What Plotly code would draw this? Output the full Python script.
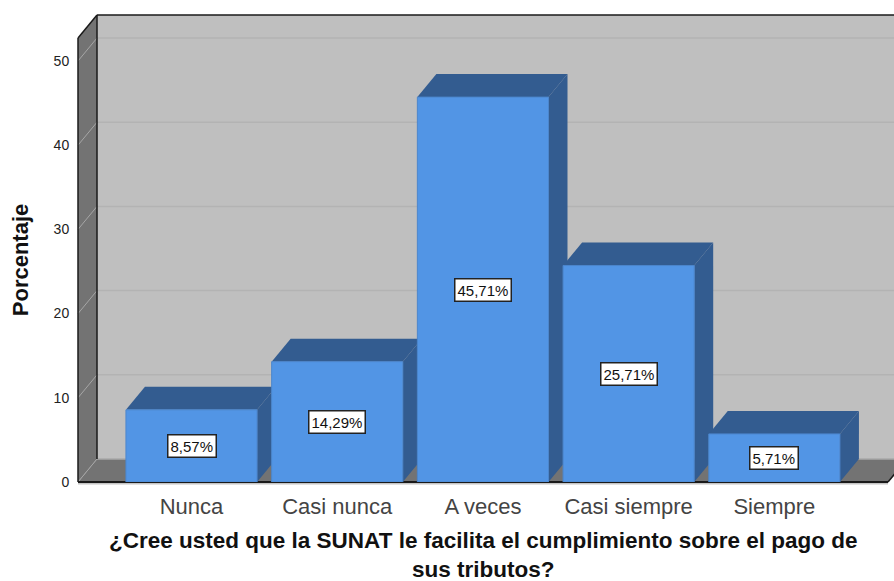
import plotly.graph_objects as go

categories = ["Nunca", "Casi nunca", "A veces", "Casi siempre", "Siempre"]
values = [8.57, 14.29, 45.71, 25.71, 5.71]
value_labels = ["8,57%", "14,29%", "45,71%", "25,71%", "5,71%"]
y_ticks = [0, 10, 20, 30, 40, 50]
x_title = "¿Cree usted que la SUNAT le facilita el cumplimiento sobre el pago de<br>sus tributos?"
y_title = "Porcentaje"

BAR_W = 0.9
XMIN, XMAX = -0.779, 4.78
YMAX = 52.73
DX, DY = 0.1304, 2.73   # depth of the pseudo-3D box, in axis units

FONT = "Liberation Sans, Arial, sans-serif"
WALL_BACK = "#BFBFBF"
WALL_SIDE = "#737373"
GRID_BACK = "#B3B3B3"
GRID_SIDE = "#A6A6A6"
BAR_FRONT = "#5295E5"
BAR_DARK = "#335C90"


def px(x):
    return (x - XMIN) / (XMAX - XMIN)


def py(y):
    return y / YMAX


def poly(points, fill, line=None, width=0):
    path = "M " + " L ".join(f"{px(x):.5f},{py(y):.5f}" for x, y in points) + " Z"
    return dict(type="path", path=path, xref="paper", yref="paper", layer="below",
                fillcolor=fill, line=dict(color=line or fill, width=width))


def seg(a, b, color, width=1):
    return dict(type="line", xref="paper", yref="paper", layer="below",
                x0=px(a[0]), y0=py(a[1]), x1=px(b[0]), y1=py(b[1]),
                line=dict(color=color, width=width))


shapes = []
bx, by = XMIN + DX, DY
# back wall, side wall, floor
shapes.append(poly([(bx, by), (bx, YMAX + DY), (XMAX + DX, YMAX + DY), (XMAX + DX, by)], WALL_BACK))
shapes.append(poly([(XMIN, 0), (XMIN, YMAX), (bx, YMAX + DY), (bx, by)], WALL_SIDE))
shapes.append(poly([(XMIN, 0), (bx, by), (XMAX + DX, by), (XMAX, 0)], WALL_SIDE))
# gridlines
for t in y_ticks:
    if t > 0:
        shapes.append(seg((bx, t + DY), (XMAX + DX, t + DY), GRID_BACK, 1.5))
    shapes.append(seg((XMIN, t), (bx, t + DY), GRID_SIDE, 1))
shapes.append(seg((bx, by), (XMAX + DX, by), "#A8A8A8", 1.5))
# outlines
shapes.append(seg((XMIN, 0), (XMIN, YMAX), "#1A1A1A", 1.5))
shapes.append(seg((XMIN, YMAX), (bx, YMAX + DY), "#1A1A1A", 1.5))
shapes.append(seg((bx, by), (bx, YMAX + DY), "#1A1A1A", 1.5))
shapes.append(seg((bx, YMAX + DY), (XMAX + DX, YMAX + DY), "#1A1A1A", 1.5))
shapes.append(seg((XMIN, -0.2), (XMAX, -0.2), "#C4C4C4", 1.5))
shapes.append(seg((XMIN, 0), (XMAX, 0), "#1A1A1A", 2))
shapes.append(seg((XMAX, 0), (XMAX + DX, DY), "#1A1A1A", 1.5))

# top and side faces of each bar, left to right, beneath the bar fronts
for i, v in enumerate(values):
    l, r = i - BAR_W / 2, i + BAR_W / 2
    shapes.append(poly([(l, v), (l + DX, v + DY), (r + DX, v + DY), (r, v)], BAR_DARK))
    shapes.append(poly([(r, 0), (r, v), (r + DX, v + DY), (r + DX, DY)], BAR_DARK))

annotations = [
    dict(x=i, y=v / 2, xref="x", yref="y", text=lab, showarrow=False,
         font=dict(family=FONT, size=15, color="#111111"), bgcolor="white",
         bordercolor="#222222", borderwidth=1.5, borderpad=2)
    for i, (v, lab) in enumerate(zip(values, value_labels))
]
annotations.append(dict(
    x=0.5003, y=-0.1650, xref="paper", yref="paper", text=x_title, showarrow=False,
    xanchor="center", yanchor="middle",
    font=dict(family=FONT, size=22.5, color="#111111", weight="bold"),
))

fig = go.Figure(go.Bar(
    x=categories, y=values, width=BAR_W,
    marker=dict(color=BAR_FRONT, line=dict(color="#4C86CC", width=1)),
    hoverinfo="x+y",
))

fig.update_layout(
    width=894, height=581, autosize=False,
    margin=dict(l=78, r=6, t=38, b=99),
    paper_bgcolor="white", plot_bgcolor="rgba(0,0,0,0)",
    showlegend=False, shapes=shapes, annotations=annotations,
    font=dict(family=FONT, color="#222222"),
)
fig.update_xaxes(
    type="category", categoryorder="array", categoryarray=categories,
    range=[XMIN, XMAX], showgrid=False, zeroline=False, showline=False, automargin=False,
    ticks="outside", ticklen=5, tickcolor="rgba(0,0,0,0)",
    tickfont=dict(family=FONT, size=22, color="#444444"),
)
fig.update_yaxes(
    range=[0, YMAX], tickvals=y_ticks, showgrid=False, zeroline=False, showline=False, automargin=False,
    ticks="outside", ticklen=5, tickcolor="rgba(0,0,0,0)",
    tickfont=dict(family=FONT, size=14, color="#222222"),
    title=dict(text=y_title, font=dict(family=FONT, size=22, color="#111111", weight="bold"), standoff=18),
)

# Remove the page's default body margin so the figure fills the 894x581 window.
fig.write_html("out.html", config=dict(displayModeBar=False),
               post_script="document.body.style.margin='0';document.documentElement.style.overflow='hidden';")
